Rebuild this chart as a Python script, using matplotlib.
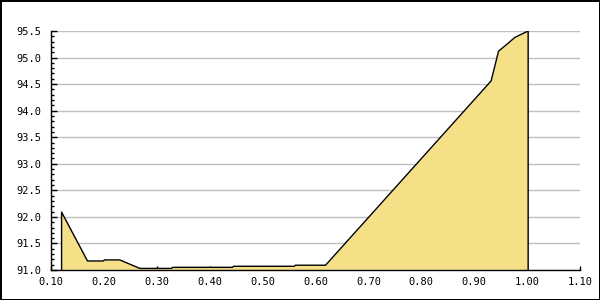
import numpy as np
import matplotlib
matplotlib.use('Agg')
import matplotlib.pyplot as plt
from matplotlib.ticker import MultipleLocator, FormatStrFormatter

# ── Data ──
x_vals = [0.120, 0.169, 0.199, 0.201, 0.230, 0.268, 0.328, 0.330, 0.443, 0.445,
          0.560, 0.562, 0.619, 0.932, 0.946, 0.963, 0.977, 1.002]
y_vals = [92.09, 91.17, 91.17, 91.19, 91.19, 91.03, 91.03, 91.05, 91.05, 91.07,
          91.07, 91.09, 91.09, 94.56, 95.12, 95.26, 95.38, 95.50]

FILL = '#F5E088'

plt.rcParams.update({
    'font.family': 'DejaVu Sans Mono',
    'font.size': 7.5,
})

fig = plt.figure(figsize=(6, 3), dpi=100)
fig.patch.set_edgecolor('black')
fig.patch.set_linewidth(2)
ax = fig.add_axes([51/600, 30/300, 529/600, 239/300])

ax.fill_between(x_vals, 91.0, y_vals, color=FILL, linewidth=0, zorder=2)
ax.plot([x_vals[0]] + x_vals + [x_vals[-1]], [91.0] + y_vals + [91.0],
        color='black', linewidth=1, zorder=3)

ax.set_xlim(0.10, 1.10)
ax.set_ylim(91.0, 95.5)
ax.xaxis.set_major_locator(MultipleLocator(0.1))
ax.xaxis.set_major_formatter(FormatStrFormatter('%.2f'))
ax.yaxis.set_major_locator(MultipleLocator(0.5))
ax.yaxis.set_minor_locator(MultipleLocator(0.1))
ax.yaxis.set_major_formatter(FormatStrFormatter('%.1f'))

ax.grid(axis='y', color='#c0c0c0', linewidth=1, zorder=1)
ax.set_axisbelow(True)
for s in ['top', 'right']:
    ax.spines[s].set_visible(False)
for s in ['left', 'bottom']:
    ax.spines[s].set_linewidth(1)
    ax.spines[s].set_zorder(4)

ax.tick_params(axis='y', which='major', direction='in', length=4, width=1, pad=7)
ax.tick_params(axis='y', which='minor', direction='in', length=2.5, width=1)
ax.tick_params(axis='x', which='major', direction='in', length=3, width=1, pad=5)

fig.savefig('out.png', dpi=100)
